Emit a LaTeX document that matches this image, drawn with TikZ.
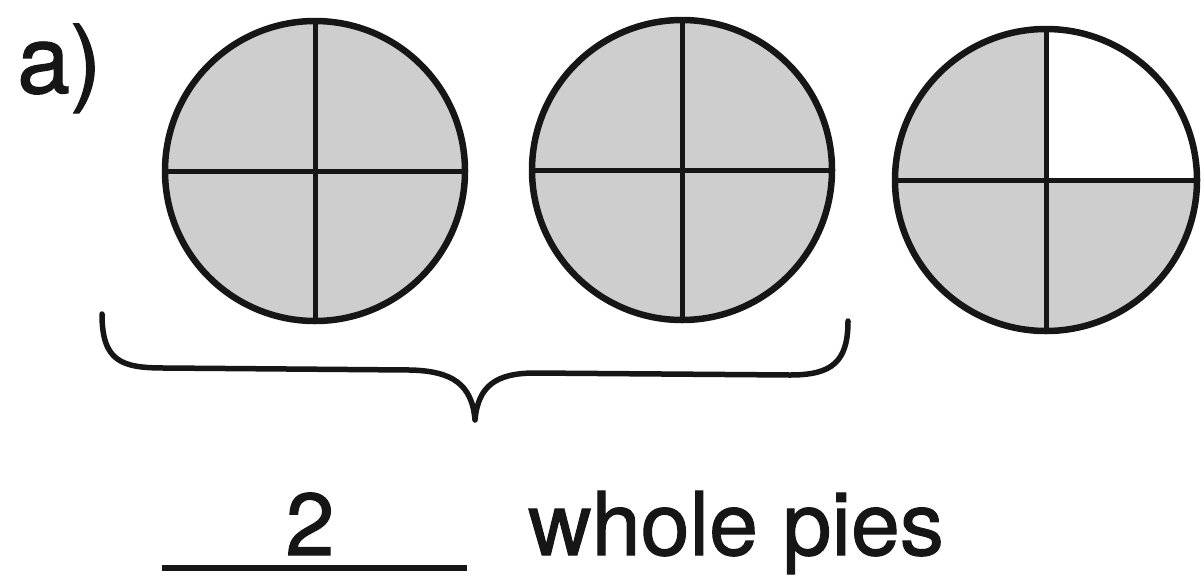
\documentclass[tikz,border=0pt]{standalone}
\usepackage{fontspec}
\setmainfont{TeX Gyre Heros}[FakeBold=1.2]
\definecolor{piegray}{RGB}{206,206,206}
\definecolor{ink}{RGB}{22,22,22}
\begin{document}
\begin{tikzpicture}[x=1pt,y=-1pt,
  outline/.style={draw=ink,line width=6.5pt},
  crossline/.style={draw=ink,line width=5pt},
  bracestyle/.style={draw=ink,line width=5.5pt,line cap=round,line join=round},
  lbl/.style={inner sep=0pt,text=ink,font=\fontsize{88}{100}\selectfont}]
\useasboundingbox (0,0) rectangle (1204,582);
% pie 1
\coordinate (c1) at (315,171);
\fill[piegray] (c1) circle[radius=150];
\path[crossline] (165,171) -- (465,171);
\path[crossline] (315,21) -- (315,321);
\draw[outline] (c1) circle[radius=150];
% pie 2
\coordinate (c2) at (682,170);
\fill[piegray] (c2) circle[radius=150];
\path[crossline] (532,170) -- (832,170);
\path[crossline] (682,20) -- (682,320);
\draw[outline] (c2) circle[radius=150];
% pie 3
\coordinate (c3) at (1046,180);
\fill[piegray] (c3) circle[radius=151];
\begin{scope}
\clip (c3) circle[radius=151];
\fill[white] (1046,180) rectangle (1200,25);
\end{scope}
\path[crossline] (895,180) -- (1197,180);
\path[crossline] (1046,29) -- (1046,331);
\draw[outline] (c3) circle[radius=151];
% brace
\coordinate (bl) at (102,314);
\coordinate (bt) at (475,420);
\coordinate (br) at (848,321);
\draw[bracestyle] (bl) .. controls (102,362) and (122,368) .. (165,368)
  -- (410,370) .. controls (452,371) and (472,384) .. (bt)
  .. controls (478,386) and (496,373) .. (535,373)
  -- (790,375) .. controls (832,375) and (848,362) .. (br);
% texts
\node[lbl,anchor=base west,font=\fontsize{95}{100}\selectfont] (lab) at (17,93) {a)};
\node[lbl,anchor=base] (num) at (310,555) {2};
\coordinate (ul) at (162,568);
\coordinate (ur) at (467,568);
\draw[draw=ink,line width=6pt] (ul) -- (ur);
\node[lbl,anchor=base west] (txt) at (528,555) {whole pies};
\end{tikzpicture}
\end{document}
